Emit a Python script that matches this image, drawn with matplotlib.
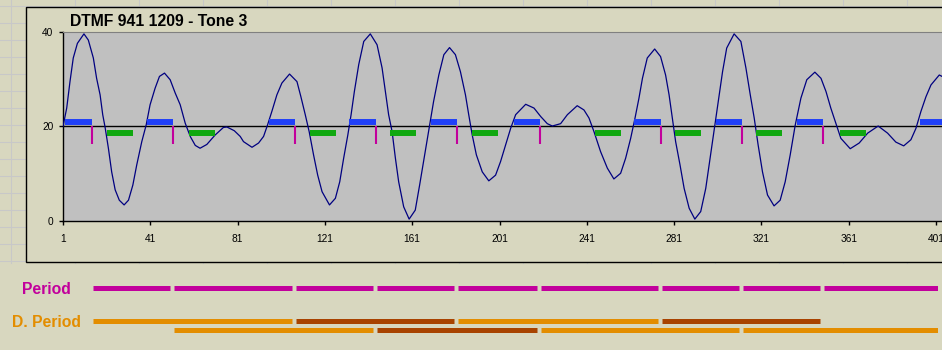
import matplotlib.pyplot as plt
import matplotlib.patches as patches
from matplotlib.lines import Line2D

plt.rcParams["font.family"] = ["Liberation Sans", "DejaVu Sans"]

wave_x = [1, 2.7, 4.2, 5.7, 7.6, 10.6, 12.6, 14.9, 16.4, 18.0, 19.2, 20.3, 21.8, 23.3, 24.9,
          26.8, 29.0, 31.0, 33.0, 34.8, 37.1, 39.1, 40.9, 43.2, 45.2, 47.5, 50.1, 52.4, 54.7,
          57.0, 59.3, 61.6, 63.8, 66.9, 70.7, 74.5, 76.1, 79.5, 82.2, 83.7, 87.6, 90.6, 92.9,
          94.7, 96.7, 99.0, 101.3, 104.8, 108.2, 110.0, 112.0, 113.8, 115.8, 117.7, 119.7,
          123.1, 125.8, 127.8, 129.6, 131.5, 133.0, 134.5, 136.5, 138.8, 141.8, 144.9, 147.2,
          148.7, 150.2, 151.8, 153.3, 154.8, 157.1, 159.6, 162.4, 164.4, 166.2, 168.5, 170.8,
          173.2, 175.5, 178.1, 180.8, 183.1, 185.4, 186.9, 188.5, 190.4, 193.1, 196.1, 199.2,
          201.5, 203.8, 206.1, 208.4, 213.0, 216.8, 219.9, 222.9, 225.2, 229.0, 232.1, 236.6,
          239.7, 242.0, 244.3, 247.3, 250.4, 253.4, 256.5, 258.8, 261.1, 263.1, 264.9, 266.5,
          268.7, 272.1, 274.8, 277.1, 278.7, 280.2, 281.7, 283.7, 285.6, 287.9, 290.5, 293.2,
          295.5, 297.5, 299.3, 301.3, 303.2, 305.1, 308.5, 311.6, 313.9, 315.9, 317.7, 319.5,
          321.5, 323.8, 326.8, 329.6, 331.9, 334.2, 336.5, 339.1, 341.8, 345.5, 348.3, 350.6,
          352.8, 355.1, 357.4, 361.7, 365.8, 369.7, 374.5, 378.8, 382.6, 386.2, 389.5, 391.8,
          394.1, 396.4, 398.7, 402.5, 404.2]
wave_y = [20.0, 23.9, 29.5, 34.5, 37.6, 39.6, 38.3, 34.5, 30.2, 26.7, 22.5, 19.8, 15.4, 10.4, 6.6,
          4.4, 3.4, 4.4, 7.6, 11.9, 16.8, 20.3, 24.6, 28.1, 30.6, 31.3, 29.9, 27.1, 24.6,
          20.7, 17.9, 16.0, 15.4, 16.2, 18.2, 19.8, 19.9, 19.1, 17.9, 16.8, 15.6, 16.5, 17.9,
          20.3, 23.2, 26.7, 29.2, 31.1, 29.5, 26.3, 22.5, 18.9, 14.0, 9.7, 6.2,
          3.4, 4.8, 8.3, 13.3, 18.2, 22.5, 27.4, 33.1, 38.0, 39.6, 37.3, 32.4,
          27.4, 22.5, 18.9, 13.3, 8.3, 3.0, 0.4, 2.3, 7.6, 12.6, 18.9, 25.3,
          30.9, 35.2, 36.7, 35.2, 31.6, 26.7, 22.5, 18.2, 14.0, 10.4, 8.5, 9.7,
          12.6, 16.1, 19.6, 22.5, 24.7, 23.9, 22.1, 20.6, 20.1, 20.6, 22.5, 24.4,
          23.5, 21.8, 18.9, 14.7, 11.2, 8.9, 10.1, 13.3, 17.5, 21.8, 26.0, 30.2,
          34.5, 36.4, 34.8, 30.9, 26.7, 21.8, 16.8, 11.9, 6.9, 2.7, 0.4, 2.0,
          6.9, 13.3, 18.9, 25.3, 31.6, 36.6, 39.6, 38.0, 32.4, 26.7, 21.8, 16.1,
          10.4, 5.5, 3.2, 4.4, 8.3, 14.0, 20.3, 26.0, 29.9, 31.5, 30.2, 27.4,
          23.9, 20.7, 17.5, 15.3, 16.5, 18.6, 20.1, 18.6, 16.7, 15.9, 17.2, 19.6,
          23.2, 26.3, 28.8, 30.9, 30.5]

# Detector marks
blue_start = [1.9, 39.5, 95.3, 132.2, 169.5, 207.6, 262.8, 300.1, 337.2, 393.7]
period_ticks = [14.3, 51.4, 107.3, 144.4, 181.5, 219.6, 275.0, 312.2, 349.2, 405.8]
green_start = [21.0, 58.7, 114.2, 150.8, 188.3, 244.8, 281.4, 318.5, 357.0]
green_end = [33.1, 70.6, 126.1, 162.7, 200.3, 256.7, 293.3, 330.3, 368.9]
mid_level = 20
blue_level = 21.0
green_level = 18.6
tick_low = 16.3

# Double periods (start index into period_ticks, colour)
dp_row1_start = [0, 2, 4, 6]
dp_row1_color = ["#E38D00", "#A84300", "#E38D00", "#A84300"]
dp_row2_start = [1, 3, 5, 7]
dp_row2_color = ["#E38D00", "#A84300", "#E38D00", "#E38D00"]

bg = "#D8D7BF"
magenta = "#C2009C"
W, H = 942, 350

fig = plt.figure(figsize=(W / 100, H / 100), dpi=100)
fig.patch.set_facecolor(bg)

# spreadsheet grid behind the chart
for k in range(16):
    yp = 6 + 16.98 * k
    fig.add_artist(Line2D([0, 1], [1 - yp / H, 1 - yp / H], color="#C8C8C8", lw=0.8,
                          transform=fig.transFigure, zorder=0))
for k in range(15):
    xp = 10.5 + 64 * k
    fig.add_artist(Line2D([xp / W, xp / W], [1, 1 - 263 / H], color="#C8C8C8", lw=0.8,
                          transform=fig.transFigure, zorder=0))

# chart area
fig.add_artist(patches.Rectangle((26 / W, 1 - 262 / H), 1.0, 255 / H, facecolor=bg,
                                 edgecolor="black", lw=1.0, transform=fig.transFigure,
                                 zorder=1))

ax = fig.add_axes([63 / W, 1 - 221 / H, 879 / W, 189 / H], zorder=2)
ax.set_facecolor("#C0C0C0")
ax.plot(wave_x, wave_y, color="#000080", lw=0.9, zorder=3)
ax.axhline(mid_level, color="black", lw=1.0, zorder=2)
ax.hlines([blue_level] * len(blue_start), blue_start, period_ticks, color="#2040F8",
          lw=4.3, zorder=4, capstyle="butt")
ax.hlines([green_level] * len(green_start), green_start, green_end, color="#10A810",
          lw=4.3, zorder=4, capstyle="butt")
ax.vlines(period_ticks, tick_low, mid_level, color=magenta, lw=1.5, zorder=4)

ax.set_xlim(1, 1 + 879 / 2.1825)
ax.set_ylim(0, 40)
ax.set_xticks(range(1, 402, 40))
ax.set_yticks([0, 20, 40])
ax.tick_params(direction="out", length=3, width=1, labelsize=7.3, colors="black")
ax.tick_params(axis="x", pad=6)
ax.tick_params(axis="y", pad=4)
ax.spines["right"].set_visible(False)
ax.spines["top"].set_color("#808080")
for s in ["left", "bottom"]:
    ax.spines[s].set_color("black")
    ax.spines[s].set_linewidth(1.0)

fig.text(70 / W, 1 - 26 / H, "DTMF 941 1209 - Tone 3", fontsize=11.3, fontweight="bold",
         va="baseline", ha="left")

# period strips below the chart
ax2 = fig.add_axes([63 / W, 1 - 340 / H, 875 / W, 60 / H])
ax2.set_xlim(1, 1 + 875 / 2.1825)
ax2.set_ylim(340, 280)
ax2.axis("off")
for i in range(len(period_ticks) - 1):
    ax2.hlines(288.3, period_ticks[i] + 0.45, period_ticks[i + 1] - 1.4, color=magenta,
               lw=3.6, capstyle="butt")
for i, c in zip(dp_row1_start, dp_row1_color):
    ax2.hlines(321.3, period_ticks[i] + 0.45, period_ticks[i + 2] - 1.4, color=c,
               lw=3.6, capstyle="butt")
for i, c in zip(dp_row2_start, dp_row2_color):
    ax2.hlines(330.3, period_ticks[i] + 0.45, period_ticks[i + 2] - 1.4, color=c,
               lw=3.6, capstyle="butt")

fig.text(46 / W, 1 - 293.7 / H, "Period", color=magenta, fontsize=11.3,
         fontweight="bold", ha="center", va="baseline")
fig.text(46 / W, 1 - 327.3 / H, "D. Period", color="#E38D00", fontsize=11.3,
         fontweight="bold", ha="center", va="baseline")

fig.savefig("out.png", dpi=100, facecolor=bg)
